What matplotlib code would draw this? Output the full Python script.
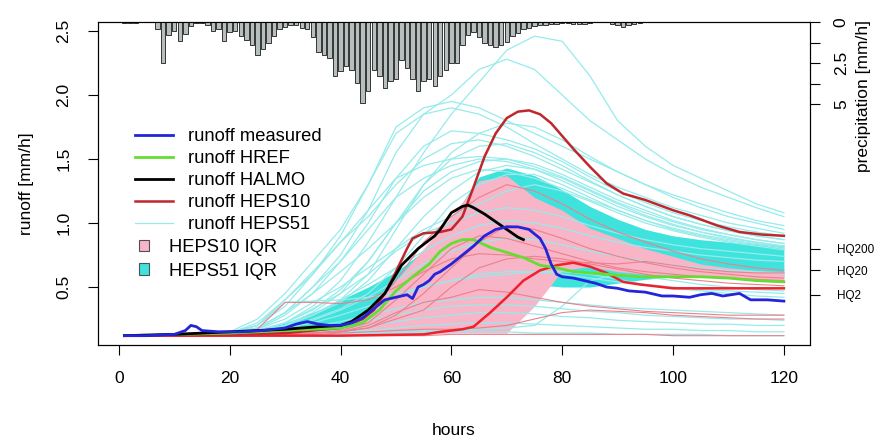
import numpy as np
import matplotlib
matplotlib.use('Agg')
import matplotlib.pyplot as plt

plt.rcParams['font.family'] = ['Liberation Sans', 'DejaVu Sans']

# hourly precipitation [mm/h], hours 1..95
rain_hours = np.arange(1, 96)
rain = [0.05, 0.05, 0.03, 0, 0, 0, 0.4, 2.5, 0.8, 0.55,
        1.15, 0.7, 0.25, 0.08, 0.05, 0.2, 0.55, 0.45, 1.15, 0.6,
        0.55, 0.85, 1.1, 1.4, 2.0, 1.65, 1.25, 0.85, 0.45, 0.3,
        0.15, 0.2, 0.35, 0.45, 0.9, 1.8, 2.0, 2.2, 3.3, 3.0,
        2.7, 2.9, 3.7, 4.95, 4.2, 2.9, 3.3, 4.0, 3.6, 3.5,
        2.3, 2.8, 3.5, 4.2, 3.6, 3.5, 3.9, 3.3, 2.9, 2.5,
        2.5, 1.4, 0.8, 0.6, 0.9, 1.3, 1.4, 1.5, 1.4, 1.2,
        0.85, 0.65, 0.45, 0.35, 0.25, 0.2, 0.15, 0.12, 0.1, 0.08,
        0.05, 0.1, 0.12, 0.1, 0.05, 0.02, 0.02, 0.02, 0.1, 0.15,
        0.3, 0.15, 0.1, 0.05, 0.02]

# measured runoff
meas_h = [1, 5, 10, 12, 13, 14, 15, 18, 22, 26, 30, 32, 34, 36, 38, 40, 42, 44, 46, 48,
          50, 52, 53, 54, 55, 56, 57, 58, 60, 62, 64, 66, 68, 70, 72, 74, 76, 77, 78, 79,
          80, 82, 84, 86, 88, 90, 92, 95, 98, 100, 103, 105, 107, 109, 112, 114, 117, 120]
meas_r = [0.12, 0.12, 0.13, 0.16, 0.2, 0.19, 0.16, 0.15, 0.15, 0.16, 0.18, 0.21, 0.23, 0.21, 0.2, 0.2, 0.22, 0.26, 0.33, 0.4,
          0.42, 0.44, 0.41, 0.5, 0.52, 0.55, 0.6, 0.62, 0.68, 0.75, 0.82, 0.9, 0.95, 0.97, 0.97, 0.95, 0.88, 0.8, 0.68, 0.6,
          0.58, 0.57, 0.55, 0.53, 0.5, 0.49, 0.47, 0.46, 0.43, 0.43, 0.42, 0.44, 0.45, 0.43, 0.45, 0.4, 0.4, 0.39]

# HREF
href_h = [1, 20, 30, 40, 44, 47, 50, 53, 56, 58, 60, 62, 64, 67, 70, 73, 76, 79, 82, 88, 94, 100, 105, 110, 115, 120]
href_r = [0.12, 0.14, 0.16, 0.18, 0.22, 0.32, 0.47, 0.58, 0.68, 0.78, 0.84, 0.87, 0.87, 0.81, 0.77, 0.73, 0.67, 0.65, 0.62, 0.6, 0.58, 0.58, 0.58, 0.57, 0.55, 0.54]

# HALMO
halmo_h = [1, 10, 20, 30, 36, 40, 42, 45, 48, 51, 54, 57, 58, 60, 62, 63, 64, 66, 69, 72, 73]
halmo_r = [0.12, 0.13, 0.15, 0.17, 0.19, 0.2, 0.23, 0.32, 0.45, 0.67, 0.8, 0.9, 0.95, 1.08, 1.13, 1.14, 1.12, 1.07, 0.98, 0.89, 0.87]

# ensemble members on a common hour grid
ens_h = [1, 20, 25, 30, 35, 40, 45, 50, 55, 60, 65, 70, 75, 80, 85, 90, 95, 100, 105, 110, 115, 120]

heps51 = [
    [0.12, 0.14, 0.16, 0.22, 0.35, 0.55, 0.85, 1.2, 1.55, 1.85, 2.1, 2.35, 2.46, 2.42, 2.15, 1.8, 1.6, 1.45, 1.35, 1.25, 1.15, 1.08],
    [0.12, 0.14, 0.18, 0.3, 0.5, 0.75, 1.1, 1.55, 1.85, 2.0, 2.2, 2.28, 2.2, 2.0, 1.8, 1.65, 1.5, 1.38, 1.28, 1.2, 1.12, 1.05],
    [0.12, 0.15, 0.2, 0.35, 0.6, 0.9, 1.3, 1.75, 1.9, 1.95, 1.9, 1.8, 1.7, 1.6, 1.5, 1.4, 1.3, 1.22, 1.15, 1.08, 1.02, 0.98],
    [0.12, 0.13, 0.15, 0.2, 0.3, 0.45, 0.7, 1.0, 1.3, 1.55, 1.7, 1.78, 1.75, 1.65, 1.52, 1.4, 1.3, 1.2, 1.12, 1.05, 1.0, 0.95],
    [0.12, 0.14, 0.17, 0.28, 0.45, 0.7, 1.0, 1.35, 1.6, 1.72, 1.7, 1.65, 1.58, 1.48, 1.36, 1.25, 1.16, 1.08, 1.02, 0.97, 0.93, 0.9],
    [0.12, 0.13, 0.15, 0.2, 0.28, 0.4, 0.6, 0.95, 1.3, 1.5, 1.6, 1.62, 1.55, 1.45, 1.33, 1.22, 1.13, 1.05, 0.99, 0.94, 0.9, 0.87],
    [0.12, 0.14, 0.2, 0.4, 0.6, 0.85, 1.1, 1.35, 1.45, 1.5, 1.52, 1.5, 1.44, 1.36, 1.26, 1.16, 1.08, 1.01, 0.95, 0.91, 0.87, 0.84],
    [0.12, 0.13, 0.16, 0.22, 0.32, 0.48, 0.7, 1.0, 1.25, 1.4, 1.48, 1.5, 1.46, 1.38, 1.28, 1.18, 1.1, 1.02, 0.96, 0.91, 0.87, 0.84],
    [0.12, 0.14, 0.18, 0.3, 0.5, 0.7, 0.95, 1.2, 1.35, 1.45, 1.5, 1.48, 1.42, 1.33, 1.23, 1.13, 1.05, 0.98, 0.93, 0.88, 0.85, 0.82],
    [0.12, 0.13, 0.15, 0.2, 0.28, 0.38, 0.55, 0.8, 1.05, 1.25, 1.4, 1.45, 1.42, 1.35, 1.25, 1.15, 1.06, 0.99, 0.93, 0.89, 0.85, 0.82],
    [0.12, 0.13, 0.14, 0.18, 0.25, 0.33, 0.45, 0.65, 0.9, 1.15, 1.3, 1.38, 1.38, 1.3, 1.2, 1.1, 1.02, 0.95, 0.9, 0.86, 0.83, 0.8],
    [0.12, 0.14, 0.17, 0.25, 0.38, 0.5, 0.65, 0.8, 0.95, 1.05, 1.15, 1.25, 1.3, 1.25, 1.17, 1.08, 1.0, 0.94, 0.89, 0.85, 0.82, 0.79],
    [0.12, 0.13, 0.16, 0.22, 0.33, 0.45, 0.6, 0.78, 0.92, 1.0, 1.08, 1.12, 1.1, 1.05, 0.98, 0.92, 0.87, 0.83, 0.8, 0.78, 0.76, 0.74],
    [0.12, 0.13, 0.15, 0.2, 0.28, 0.4, 0.52, 0.65, 0.78, 0.9, 0.98, 1.02, 1.0, 0.96, 0.9, 0.85, 0.81, 0.78, 0.75, 0.73, 0.71, 0.7],
    [0.12, 0.13, 0.14, 0.18, 0.24, 0.32, 0.42, 0.55, 0.68, 0.78, 0.85, 0.88, 0.87, 0.83, 0.78, 0.74, 0.7, 0.67, 0.65, 0.63, 0.62, 0.6],
    [0.12, 0.13, 0.2, 0.38, 0.39, 0.4, 0.42, 0.45, 0.5, 0.55, 0.6, 0.62, 0.62, 0.6, 0.57, 0.54, 0.52, 0.5, 0.48, 0.47, 0.46, 0.45],
    [0.12, 0.13, 0.15, 0.18, 0.22, 0.28, 0.35, 0.42, 0.5, 0.55, 0.58, 0.6, 0.62, 0.62, 0.6, 0.56, 0.52, 0.49, 0.47, 0.45, 0.43, 0.42],
    [0.12, 0.13, 0.13, 0.13, 0.14, 0.14, 0.15, 0.15, 0.16, 0.16, 0.17, 0.18, 0.2, 0.35, 0.55, 0.6, 0.58, 0.55, 0.52, 0.5, 0.48, 0.47],
    [0.12, 0.13, 0.14, 0.16, 0.19, 0.23, 0.28, 0.33, 0.38, 0.4, 0.42, 0.42, 0.4, 0.38, 0.36, 0.34, 0.33, 0.32, 0.31, 0.3, 0.29, 0.28],
    [0.12, 0.13, 0.13, 0.15, 0.17, 0.2, 0.24, 0.28, 0.32, 0.35, 0.36, 0.36, 0.35, 0.33, 0.31, 0.3, 0.28, 0.27, 0.26, 0.25, 0.25, 0.24],
    [0.12, 0.12, 0.13, 0.14, 0.15, 0.17, 0.2, 0.23, 0.26, 0.28, 0.3, 0.3, 0.29, 0.27, 0.26, 0.24, 0.23, 0.22, 0.21, 0.21, 0.2, 0.2],
    [0.12, 0.12, 0.13, 0.13, 0.14, 0.15, 0.16, 0.18, 0.2, 0.21, 0.22, 0.22, 0.21, 0.2, 0.19, 0.18, 0.17, 0.17, 0.16, 0.16, 0.15, 0.15],
    [0.12, 0.12, 0.12, 0.13, 0.13, 0.13, 0.14, 0.14, 0.15, 0.15, 0.15, 0.15, 0.14, 0.14, 0.14, 0.13, 0.13, 0.13, 0.13, 0.12, 0.12, 0.12],
    [0.12, 0.15, 0.25, 0.45, 0.7, 0.95, 1.3, 1.7, 1.85, 1.9, 1.85, 1.75, 1.62, 1.5, 1.38, 1.28, 1.2, 1.12, 1.06, 1.0, 0.96, 0.92],
    [0.12, 0.14, 0.22, 0.4, 0.62, 0.85, 1.05, 1.3, 1.5, 1.62, 1.65, 1.6, 1.52, 1.42, 1.32, 1.22, 1.13, 1.05, 0.99, 0.94, 0.9, 0.87],
    [0.12, 0.13, 0.18, 0.3, 0.45, 0.62, 0.8, 1.0, 1.2, 1.35, 1.42, 1.4, 1.35, 1.27, 1.18, 1.1, 1.02, 0.96, 0.91, 0.87, 0.84, 0.81],
]

heps10_thin = [
    [0.12, 0.13, 0.17, 0.38, 0.38, 0.37, 0.4, 0.5, 0.62, 0.72, 0.76, 0.75, 0.72, 0.7, 0.69, 0.68, 0.7, 0.67, 0.64, 0.62, 0.61, 0.61],
    [0.12, 0.12, 0.13, 0.13, 0.14, 0.15, 0.2, 0.3, 0.38, 0.42, 0.48, 0.46, 0.42, 0.38, 0.35, 0.33, 0.31, 0.3, 0.29, 0.28, 0.28, 0.28],
    [0.12, 0.12, 0.13, 0.13, 0.14, 0.15, 0.18, 0.25, 0.32, 0.5, 0.65, 0.72, 0.74, 0.72, 0.68, 0.64, 0.6, 0.57, 0.55, 0.53, 0.52, 0.51],
    [0.12, 0.12, 0.12, 0.12, 0.12, 0.12, 0.12, 0.12, 0.12, 0.13, 0.13, 0.13, 0.13, 0.13, 0.13, 0.13, 0.13, 0.12, 0.12, 0.12, 0.12, 0.12],
    [0.12, 0.12, 0.13, 0.13, 0.14, 0.16, 0.22, 0.4, 0.6, 0.8, 0.9, 0.88, 0.82, 0.76, 0.7, 0.65, 0.62, 0.6, 0.58, 0.57, 0.56, 0.55],
    [0.12, 0.12, 0.13, 0.14, 0.16, 0.2, 0.3, 0.55, 0.85, 1.05, 1.2, 1.3, 1.25, 1.15, 1.03, 0.93, 0.85, 0.78, 0.72, 0.68, 0.65, 0.63],
    [0.12, 0.12, 0.12, 0.13, 0.13, 0.14, 0.15, 0.16, 0.17, 0.17, 0.18, 0.2, 0.25, 0.3, 0.32, 0.31, 0.3, 0.28, 0.27, 0.26, 0.25, 0.25],
    [0.12, 0.12, 0.13, 0.13, 0.14, 0.15, 0.18, 0.28, 0.45, 0.65, 0.85, 0.98, 0.95, 0.88, 0.8, 0.74, 0.69, 0.65, 0.62, 0.6, 0.58, 0.57],
]

# two highlighted HEPS10 members
peak_h = [1, 20, 30, 40, 44, 46, 48, 50, 52, 53, 55, 58, 60, 62, 64, 66, 68, 70, 72, 74, 76, 78, 80,
          82, 85, 88, 91, 95, 100, 103, 108, 112, 116, 120]
peak_r = [0.12, 0.13, 0.14, 0.18, 0.25, 0.32, 0.45, 0.62, 0.8, 0.88, 0.92, 0.93, 0.95, 1.05, 1.28, 1.52, 1.7, 1.82, 1.87, 1.88, 1.85, 1.78, 1.68,
          1.58, 1.44, 1.31, 1.23, 1.18, 1.1, 1.06, 0.98, 0.93, 0.91, 0.9]
late_h = [1, 20, 40, 55, 58, 62, 64, 67, 70, 73, 76, 79, 82, 85, 88, 91, 94, 100, 105, 110, 120]
late_r = [0.12, 0.12, 0.12, 0.13, 0.15, 0.17, 0.19, 0.3, 0.42, 0.55, 0.63, 0.67, 0.69, 0.66, 0.61, 0.54, 0.52, 0.49, 0.49, 0.49, 0.49]

# interquartile ranges
iqr_h = [25, 30, 35, 40, 45, 50, 55, 60, 65, 70, 75, 80, 85, 90, 95, 100, 105, 110, 115, 120]
iqr51_lo = [0.14, 0.15, 0.17, 0.2, 0.25, 0.3, 0.38, 0.45, 0.5, 0.52, 0.52, 0.5, 0.5, 0.53, 0.56, 0.58, 0.58, 0.58, 0.58, 0.58]
iqr51_hi = [0.16, 0.22, 0.3, 0.4, 0.5, 0.62, 0.78, 1.03, 1.36, 1.43, 1.37, 1.26, 1.13, 1.03, 0.95, 0.9, 0.87, 0.85, 0.84, 0.83]
iqr10_lo = [0.13, 0.13, 0.13, 0.13, 0.13, 0.13, 0.13, 0.14, 0.14, 0.14, 0.35, 0.63, 0.66, 0.62, 0.6, 0.59, 0.58, 0.57, 0.56, 0.55]
iqr10_hi = [0.14, 0.16, 0.18, 0.2, 0.3, 0.55, 0.8, 1.05, 1.33, 1.37, 1.2, 1.1, 0.96, 0.88, 0.8, 0.74, 0.68, 0.65, 0.63, 0.62]

hq_levels = [0.44, 0.63, 0.8]
hq_labels = ['HQ2', 'HQ20', 'HQ200']

fig = plt.figure(figsize=(8.75, 4.37), dpi=100)
ax = fig.add_axes([0.112, 0.2105, 0.814, 0.739])

f51 = ax.fill_between(iqr_h, iqr51_lo, iqr51_hi, color='#3fe3dd', lw=0)
f10 = ax.fill_between(iqr_h, iqr10_lo, iqr10_hi, color='#f7b5c7', lw=0)

for m in heps51:
    l51, = ax.plot(ens_h, m, color='#96ebeb', lw=0.9)
for m in heps10_thin:
    ax.plot(ens_h, m, color='#ee7f8c', lw=0.8)
ax.plot(late_h, late_r, color='#f0202c', lw=1.8)
l10, = ax.plot(peak_h, peak_r, color='#c0262c', lw=1.8)

lh, = ax.plot(href_h, href_r, color='#66dd33', lw=2)
la, = ax.plot(halmo_h, halmo_r, color='black', lw=2)
lm, = ax.plot(meas_h, meas_r, color='#2424d8', lw=2)

ax.set_xlim(-3.76, 124.76)
ax.set_ylim(0.047, 2.57)
ax.set_xticks([0, 20, 40, 60, 80, 100, 120])
ax.set_yticks([0.5, 1.0, 1.5, 2.0, 2.5])
ax.set_yticklabels(['0.5', '1.0', '1.5', '2.0', '2.5'], rotation=90, va='center')
ax.tick_params(direction='out', length=7, labelsize=12.5, width=0.8)
ax.tick_params(axis='x', pad=12)
ax.tick_params(axis='y', pad=12)
ax.set_xlabel('hours', fontsize=12.5, labelpad=26)
ax.set_ylabel('runoff [mm/h]', fontsize=12.5, labelpad=16)
for s in ax.spines.values():
    s.set_linewidth(0.8)

# HQ marks on the runoff scale
sec = ax.secondary_yaxis('right')
sec.set_yticks(hq_levels)
sec.set_yticklabels(hq_labels)
sec.tick_params(direction='out', length=7, labelsize=8.5, pad=12)
sec.spines['right'].set_visible(False)

# precipitation, reversed on the right
ax2 = ax.twinx()
ax2.bar(rain_hours, rain, width=0.8, color='#b6bebe', edgecolor='#1a1a1a', lw=0.6, align='center')
ax2.set_ylim(19.7, 0)
ax2.set_yticks([0, 1.25, 2.5, 3.75, 5])
ax2.set_yticklabels(['0', '', '2.5', '', '5'], rotation=90, va='center')
ax2.tick_params(direction='out', length=7, labelsize=12.5, pad=10, width=0.8)
ax2.set_ylabel('precipitation [mm/h]', fontsize=12.5, rotation=90)
ax2.yaxis.set_label_coords(1.064, 0.77)
for s in ax2.spines.values():
    s.set_linewidth(0.8)

leg1 = ax2.legend([lm, lh, la, l10, l51],
                  ['runoff measured', 'runoff HREF', 'runoff HALMO', 'runoff HEPS10', 'runoff HEPS51'],
                  loc='upper left', bbox_to_anchor=(0.052, 0.671), frameon=False, fontsize=13.2,
                  handlelength=2.08, handletextpad=0.82, labelspacing=0.27, borderpad=0, borderaxespad=0)
ax2.add_artist(leg1)
leg2 = ax2.legend([f10, f51], ['HEPS10 IQR', 'HEPS51 IQR'],
                  loc='upper left', bbox_to_anchor=(0.057, 0.328), frameon=False, fontsize=13.2,
                  handlelength=0.55, handleheight=0.55, handletextpad=1.1, labelspacing=0.35,
                  borderpad=0, borderaxespad=0)
for p in leg2.get_patches():
    p.set_edgecolor('#505050')
    p.set_linewidth(0.8)

fig.savefig('out.png', dpi=100)
